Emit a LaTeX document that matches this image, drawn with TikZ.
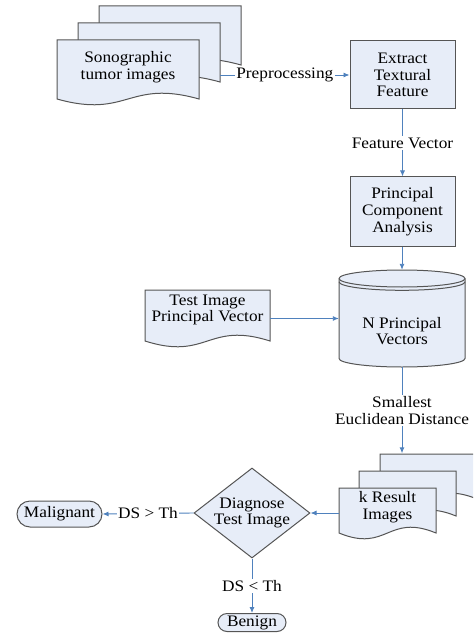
\documentclass[tikz,border=0pt]{standalone}
\usepackage{fontspec}
\setmainfont{Liberation Serif}[FakeStretch=1.08]
\usetikzlibrary{shapes.geometric,arrows.meta}
\definecolor{boxfill}{RGB}{231,237,248}
\definecolor{boxline}{RGB}{85,85,85}
\definecolor{arrowblue}{RGB}{79,129,189}
\newcommand\docshape[5]{%
  \filldraw[shapestyle] (#1,#2) -- (#3,#2) -- (#3,#4)
    .. controls ({#1+0.5*(#3-#1)},{#4-2*#5}) and ({#1+0.5*(#3-#1)},{#4+2*#5}) .. (#1,#4) -- cycle;}
\begin{document}
\begin{tikzpicture}[x=1pt,y=-1pt,
  shapestyle/.style={draw=boxline,fill=boxfill,line width=1pt},
  txt/.style={font=\fontsize{16}{16.8}\selectfont,align=center,inner sep=0pt},
  procbox/.style={shapestyle,txt,rectangle,minimum width=105pt,minimum height=68pt},
  ghost/.style={rectangle,inner sep=0pt,draw=none},
  termbox/.style={shapestyle,txt,rectangle},
  arr/.style={draw=arrowblue,line width=0.9pt,-{Latex[length=6pt,width=5pt]}},
  lbl/.style={txt,fill=white,inner sep=1.5pt}]
\useasboundingbox (0,0) rectangle (473,636);
\clip (0,0) rectangle (473,636);
% Sonographic tumor images (stacked documents)
\docshape{99}{6}{241}{65}{10}
\docshape{78}{23}{220}{82}{10}
\docshape{57}{40}{199}{99}{10}
\node[ghost,minimum width=142pt,minimum height=59pt] (sonomid) at (149,52.5) {};
\node[txt] (sono) at (128,67) {Sonographic\\tumor images};
% Extract box
\node[procbox] (ext) at (402.5,75) {Extract\\Textural\\Feature};
% PCA box
\node[procbox,minimum height=69pt] (pca) at (402.5,211.5) {Principal\\Component\\Analysis};
% Cylinder
\filldraw[shapestyle] (339,278.5) -- (339,358.5)
  .. controls (339,363.2) and (367.2,367) .. (402,367)
  .. controls (436.8,367) and (465,363.2) .. (465,358.5) -- (465,278.5)
  .. controls (465,273.8) and (436.8,270) .. (402,270)
  .. controls (367.2,270) and (339,273.8) .. (339,278.5) -- cycle;
\draw[shapestyle,fill=none] (339,278.5) .. controls (339,283.2) and (367.2,287) .. (402,287)
  .. controls (436.8,287) and (465,283.2) .. (465,278.5);
\draw[shapestyle,fill=none] (339,281.8) .. controls (339,286.5) and (367.2,290.3) .. (402,290.3)
  .. controls (436.8,290.3) and (465,286.5) .. (465,281.8);
\node[ghost,minimum width=126pt,minimum height=97pt] (db) at (402,318.5) {};
\node[txt] (dbtext) at (402,331) {N Principal\\Vectors};
% Test image document
\docshape{145}{290}{270}{341}{10}
\node[ghost,txt,minimum width=125pt] (test) at (207.5,310) {Test Image\\Principal Vector};
% k Result images (stacked documents)
\docshape{380}{454}{477}{499}{10}
\docshape{359}{471}{456}{516}{10}
\docshape{339}{488}{436}{533}{10}
\node[ghost,minimum width=97pt,minimum height=45pt] (kback) at (428.5,476) {};
\node[ghost,txt,minimum width=97pt] (kres) at (387.5,507) {k Result\\Images};
% Diamond
\node[shapestyle,diamond,minimum width=116pt,minimum height=90pt,inner sep=0pt] (diag) at (252,513) {};
\node[txt] (diagtext) at (252,513) {Diagnose\\Test Image};
% Terminals
\node[termbox,minimum width=85pt,minimum height=26pt,rounded corners=13pt] (mal) at (59.5,514) {Malignant};
\node[termbox,minimum width=68pt,minimum height=18pt,rounded corners=9pt] (ben) at (252,622.5) {Benign};
% Connectors
\draw[arr] (ext.west -| sonomid.east) -- node[lbl] {Preprocessing} (ext.west);
\draw[arr] (ext.south) -- node[lbl] {Feature Vector} (pca.north);
\draw[arr] (pca.south -| db.north) -- (db.north);
\draw[arr] (test.east |- db.west) -- (db.west);
\draw[arr] (db.south) -- node[lbl] {Smallest\\Euclidean Distance} (db.south |- kback.north);
\draw[arr] (kres.west |- diag.east) -- (diag.east);
\draw[arr] (diag.west) -- node[lbl] {DS > Th} (mal.east);
\draw[arr] (diag.south) -- node[lbl] {DS < Th} (ben.north);
\end{tikzpicture}
\end{document}
